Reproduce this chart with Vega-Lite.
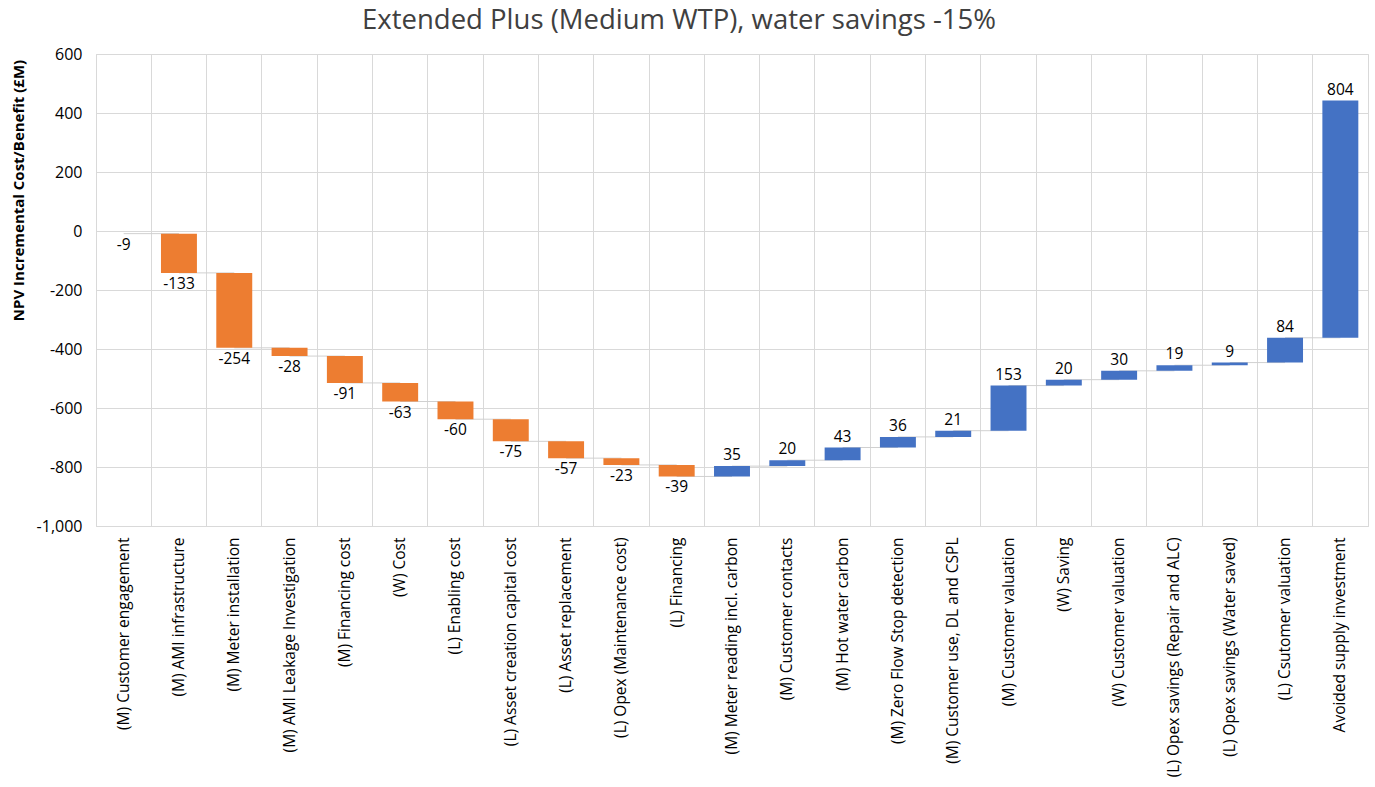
{
  "$schema": "https://vega.github.io/schema/vega-lite/v6.json",
  "width": 1272,
  "height": 472,
  "autosize": "none",
  "padding": {"left": 96, "top": 54, "right": 7, "bottom": 261},
  "background": "white",
  "config": {
    "font": "Open Sans",
    "view": {"stroke": "#D9D9D9", "strokeWidth": 1},
    "locale": {
      "number": {"decimal": ".", "thousands": ",", "grouping": [3], "currency": ["£", ""], "minus": "-"}
    }
  },
  "title": {
    "text": "Extended Plus (Medium WTP), water savings -15%",
    "fontSize": 27.5,
    "fontWeight": "normal",
    "color": "#404040",
    "font": "Open Sans",
    "anchor": "middle",
    "dx": -53,
    "offset": 12
  },
  "data": {
    "values": [
      {"order": 1, "cat": "(M) Customer engagement", "value": -9},
      {"order": 2, "cat": "(M) AMI infrastructure", "value": -133},
      {"order": 3, "cat": "(M) Meter installation", "value": -254},
      {"order": 4, "cat": "(M) AMI Leakage Investigation", "value": -28},
      {"order": 5, "cat": "(M) Financing cost", "value": -91},
      {"order": 6, "cat": "(W) Cost", "value": -63},
      {"order": 7, "cat": "(L) Enabling cost", "value": -60},
      {"order": 8, "cat": "(L) Asset creation capital cost", "value": -75},
      {"order": 9, "cat": "(L) Asset replacement", "value": -57},
      {"order": 10, "cat": "(L) Opex (Maintenance cost)", "value": -23},
      {"order": 11, "cat": "(L) Financing", "value": -39},
      {"order": 12, "cat": "(M) Meter reading incl. carbon", "value": 35},
      {"order": 13, "cat": "(M) Customer contacts", "value": 20},
      {"order": 14, "cat": "(M) Hot water carbon", "value": 43},
      {"order": 15, "cat": "(M) Zero Flow Stop detection", "value": 36},
      {"order": 16, "cat": "(M) Customer use, DL and CSPL", "value": 21},
      {"order": 17, "cat": "(M) Customer valuation", "value": 153},
      {"order": 18, "cat": "(W) Saving", "value": 20},
      {"order": 19, "cat": "(W) Customer valuation", "value": 30},
      {"order": 20, "cat": "(L) Opex savings (Repair and ALC)", "value": 19},
      {"order": 21, "cat": "(L) Opex savings (Water saved)", "value": 9},
      {"order": 22, "cat": "(L) Csutomer valuation", "value": 84},
      {"order": 23, "cat": "Avoided supply investment", "value": 804}
    ]
  },
  "transform": [
    {"window": [{"op": "sum", "field": "value", "as": "end"}], "sort": [{"field": "order"}]},
    {"window": [{"op": "lag", "field": "end", "as": "start"}, {"op": "lead", "field": "cat", "as": "next"}], "sort": [{"field": "order"}]},
    {"impute": "start", "key": "order", "value": 0}
  ],
  "encoding": {
    "x": {
      "field": "cat",
      "type": "nominal",
      "sort": {"field": "order"},
      "scale": {"paddingInner": 0, "paddingOuter": 0},
      "axis": {
        "title": null,
        "labelAngle": -90,
        "labelAlign": "right",
        "labelBaseline": "middle",
        "labelFontSize": 15.5,
        "labelColor": "#000000",
        "labelPadding": 11,
        "labelLimit": 300,
        "ticks": false,
        "domainColor": "#D9D9D9",
        "grid": true,
        "gridColor": "#D9D9D9",
        "bandPosition": 0
      }
    }
  },
  "layer": [
    {
      "transform": [{"filter": "datum.next != null"}],
      "mark": {"type": "rule", "color": "#D0D0D0", "strokeWidth": 1},
      "encoding": {
        "x2": {"field": "next"},
        "y": {"field": "end", "type": "quantitative"}
      }
    },
    {
      "mark": {"type": "bar", "width": {"band": 0.65}},
      "encoding": {
        "y": {
          "field": "start",
          "type": "quantitative",
          "scale": {"domain": [-1000, 600], "nice": false},
          "axis": {
            "title": "NPV Incremental Cost/Benefit (£M)",
            "titleFontSize": 15,
            "titleFontWeight": "bold",
            "titleColor": "#000000",
            "titleX": -78,
            "titleY": 136,
            "titleAngle": -90,
            "titleAlign": "center",
            "titleBaseline": "middle",
            "values": [-1000, -800, -600, -400, -200, 0, 200, 400, 600],
            "format": ",d",
            "labelFontSize": 16,
            "labelColor": "#000000",
            "labelPadding": 14,
            "ticks": false,
            "domain": false,
            "grid": true,
            "gridColor": "#D9D9D9"
          }
        },
        "y2": {"field": "end"},
        "color": {
          "condition": {"test": "datum.value < 0", "value": "#ED7D31"},
          "value": "#4472C4"
        }
      }
    },
    {
      "transform": [{"filter": "datum.value < 0"}],
      "mark": {"type": "text", "fontSize": 15.5, "color": "#000000", "baseline": "top", "dy": 4},
      "encoding": {
        "y": {"field": "end", "type": "quantitative"},
        "text": {"field": "value", "type": "quantitative", "format": ",d"}
      }
    },
    {
      "transform": [{"filter": "datum.value >= 0"}],
      "mark": {"type": "text", "fontSize": 15.5, "color": "#000000", "baseline": "bottom", "dy": -3},
      "encoding": {
        "y": {"field": "end", "type": "quantitative"},
        "text": {"field": "value", "type": "quantitative", "format": ",d"}
      }
    },
    {
      "mark": {"type": "rule", "color": "#FF0000", "strokeWidth": 4, "strokeDash": [14, 8]},
      "encoding": {"y": {"datum": 0, "type": "quantitative"}}
    }
  ]
}
